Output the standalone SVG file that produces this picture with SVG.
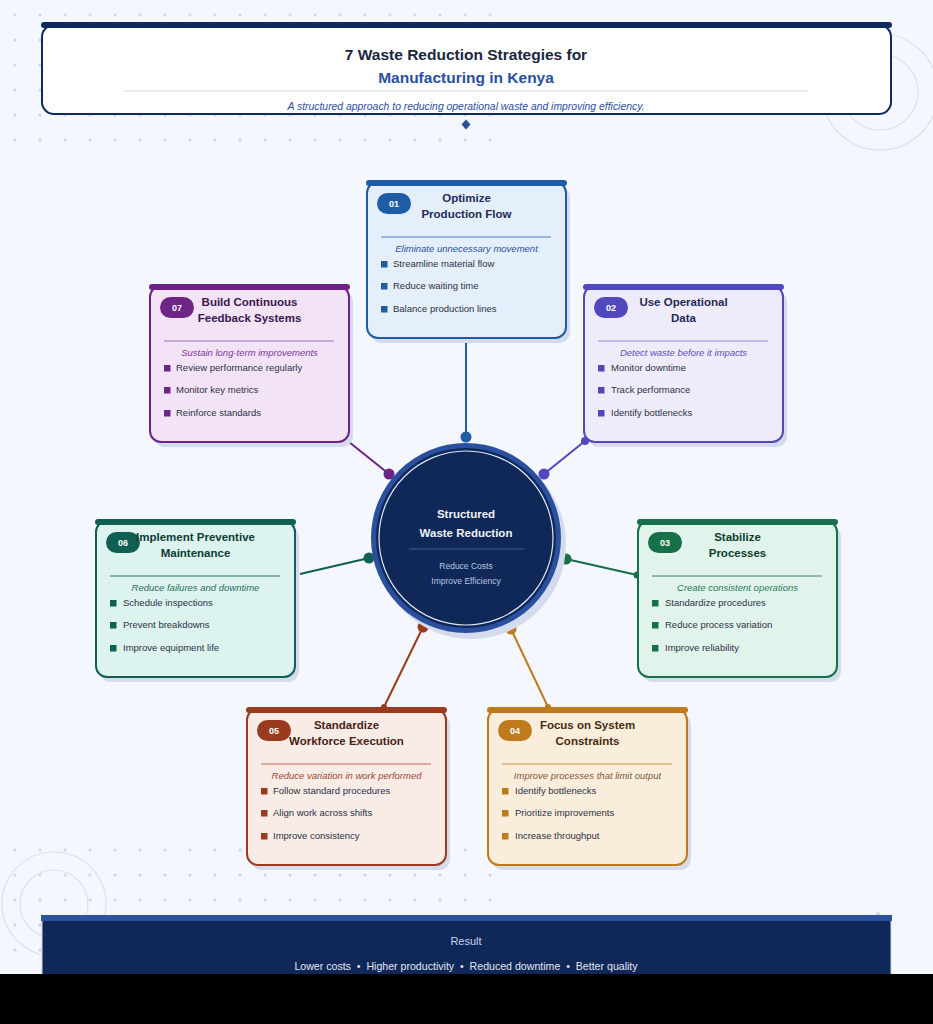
<svg xmlns="http://www.w3.org/2000/svg" width="933" height="1024" viewBox="0 0 933 1024">
<defs>
<pattern id="dotsTop" x="0" y="0" width="25" height="25" patternUnits="userSpaceOnUse"><circle cx="15" cy="15" r="1.6" fill="#cdd7ea"/></pattern>
<pattern id="dotsBot" x="0" y="835" width="25" height="25" patternUnits="userSpaceOnUse"><circle cx="15" cy="15" r="1.6" fill="#cdd7ea"/></pattern>
<style>
text{font-family:"Liberation Sans",Arial,sans-serif}
.shadow{fill:#d3dbec}
.ttl{font-size:11.5px;font-weight:bold;text-anchor:middle}
.sub{font-size:9.5px;font-style:italic;text-anchor:middle}
.bl{font-size:9.5px;fill:#2b3245}
.badge{font-size:9px;font-weight:bold;fill:#ffffff;text-anchor:middle}
.conn{fill:none;stroke-width:2}
</style>
</defs>
<rect x="0" y="0" width="933" height="1024" fill="#f4f7fe"/>
<rect x="0" y="0" width="500" height="150" fill="url(#dotsTop)"/>
<rect x="0" y="840" width="500" height="120" fill="url(#dotsBot)"/>
<g fill="none" stroke="#d9e2f3" stroke-width="1.2">
<circle cx="880" cy="92" r="58"/><circle cx="880" cy="92" r="38"/>
<circle cx="54" cy="904" r="52"/><circle cx="54" cy="904" r="34"/>
</g>

<g id="header">
<rect x="42" y="25" width="849" height="89" rx="12" fill="#ffffff" stroke="#0f2a5c" stroke-width="2"/>
<rect x="41" y="22" width="851" height="6" rx="3" fill="#0f2a5c"/>
<text x="466" y="60" font-size="15.5" font-weight="bold" fill="#1a2540" text-anchor="middle">7 Waste Reduction Strategies for</text>
<text x="466" y="82.5" font-size="15.5" font-weight="bold" fill="#2a4f9f" text-anchor="middle">Manufacturing in Kenya</text>
<line x1="124" y1="91" x2="808" y2="91" stroke="#cdd6e8" stroke-width="1"/>
<text x="466" y="109.5" font-size="10.4" font-style="italic" fill="#2a4f9f" text-anchor="middle">A structured approach to reducing operational waste and improving efficiency.</text>
<polygon points="466,119.5 470.5,124.5 466,129.5 461.5,124.5" fill="#2a4f9f"/>
</g>

<g id="connectors">
<line class="conn" x1="466" y1="338" x2="466" y2="437" stroke="#1f5ca6"/>
<circle cx="466" cy="437" r="5.5" fill="#1f5ca6"/>
<line class="conn" x1="585" y1="441" x2="544" y2="474" stroke="#5248bd"/>
<circle cx="585" cy="441" r="4" fill="#5248bd"/><circle cx="544" cy="474" r="5.5" fill="#5248bd"/>
<line class="conn" x1="349" y1="442" x2="389" y2="474" stroke="#6c2585"/>
<circle cx="389" cy="474" r="5.5" fill="#6c2585"/>
<line class="conn" x1="300" y1="574" x2="369" y2="558" stroke="#0f5f52"/>
<circle cx="369" cy="558" r="5.5" fill="#0f5f52"/>
<line class="conn" x1="566" y1="559" x2="637" y2="575" stroke="#17704a"/>
<circle cx="566" cy="559" r="5.5" fill="#17704a"/><circle cx="637" cy="575" r="3.5" fill="#17704a"/>
<line class="conn" x1="423" y1="627" x2="384" y2="707" stroke="#9a3a1f"/>
<circle cx="423" cy="627" r="5.5" fill="#9a3a1f"/><circle cx="384" cy="707" r="3" fill="#9a3a1f"/>
<line class="conn" x1="511" y1="629" x2="548" y2="707" stroke="#c07a1e"/>
<circle cx="511" cy="629" r="5.5" fill="#c07a1e"/><circle cx="548" cy="707" r="3" fill="#c07a1e"/>
</g>

<g id="center">
<circle cx="471" cy="544" r="95" fill="#d3dbec"/>
<circle cx="466" cy="538" r="95" fill="#2a4f9f"/>
<circle cx="466" cy="538" r="90" fill="#0f2858"/>
<circle cx="466" cy="538" r="87" fill="none" stroke="#dfe6f5" stroke-width="1.2"/>
<text x="466" y="518" font-size="11.5" font-weight="bold" fill="#eef2fa" text-anchor="middle">Structured</text>
<text x="466" y="537" font-size="11.5" font-weight="bold" fill="#eef2fa" text-anchor="middle">Waste Reduction</text>
<line x1="409" y1="549" x2="524" y2="549" stroke="#3d5c9f" stroke-width="1"/>
<text x="466" y="569" font-size="8.5" fill="#b9c5e2" text-anchor="middle">Reduce Costs</text>
<text x="466" y="584" font-size="8.5" fill="#b9c5e2" text-anchor="middle">Improve Efficiency</text>
</g>

<g id="card-01">
<rect class="shadow" x="371" y="187" width="199" height="156" rx="11"/>
<rect x="367" y="182" width="199" height="156" rx="11" fill="#e4effb" stroke="#1f5ca6" stroke-width="2"/>
<rect x="366" y="180" width="201" height="6" rx="3" fill="#1f5ca6"/>
<rect x="377" y="193" width="34" height="21" rx="10.5" fill="#1f5ca6"/>
<text class="badge" x="394" y="206.5">01</text>
<text class="ttl" x="466.5" y="202" fill="#1c2b5a">Optimize</text>
<text class="ttl" x="466.5" y="218" fill="#1c2b5a">Production Flow</text>
<line x1="381" y1="237" x2="551" y2="237" stroke="#1f5ca6" stroke-opacity="0.75"/>
<text class="sub" x="466.5" y="252" fill="#2a4f9f">Eliminate unnecessary movement</text>
<rect x="381" y="261" width="6.5" height="6.5" fill="#1f5ca6"/><text class="bl" x="393" y="267.4">Streamline material flow</text>
<rect x="381" y="283" width="6.5" height="6.5" fill="#1f5ca6"/><text class="bl" x="393" y="289.4">Reduce waiting time</text>
<rect x="381" y="306" width="6.5" height="6.5" fill="#1f5ca6"/><text class="bl" x="393" y="312.4">Balance production lines</text>
</g>

<g id="card-02">
<rect class="shadow" x="588" y="291" width="199" height="156" rx="11"/>
<rect x="584" y="286" width="199" height="156" rx="11" fill="#eeecfb" stroke="#5248bd" stroke-width="2"/>
<rect x="583" y="284" width="201" height="6" rx="3" fill="#5248bd"/>
<rect x="594" y="297" width="34" height="21" rx="10.5" fill="#5248bd"/>
<text class="badge" x="611" y="310.5">02</text>
<text class="ttl" x="683.5" y="306" fill="#1e2a5a">Use Operational</text>
<text class="ttl" x="683.5" y="322" fill="#1e2a5a">Data</text>
<line x1="598" y1="341" x2="768" y2="341" stroke="#5248bd" stroke-opacity="0.6"/>
<text class="sub" x="683.5" y="356" fill="#5b50c0">Detect waste before it impacts</text>
<rect x="598" y="365" width="6.5" height="6.5" fill="#5248bd"/><text class="bl" x="611" y="371.4">Monitor downtime</text>
<rect x="598" y="387" width="6.5" height="6.5" fill="#5248bd"/><text class="bl" x="611" y="393.4">Track performance</text>
<rect x="598" y="410" width="6.5" height="6.5" fill="#5248bd"/><text class="bl" x="611" y="416.4">Identify bottlenecks</text>
</g>

<g id="card-03">
<rect class="shadow" x="642" y="526" width="199" height="156" rx="11"/>
<rect x="638" y="521" width="199" height="156" rx="11" fill="#e1f4ec" stroke="#17704a" stroke-width="2"/>
<rect x="637" y="519" width="201" height="6" rx="3" fill="#17704a"/>
<rect x="648" y="532" width="34" height="21" rx="10.5" fill="#17704a"/>
<text class="badge" x="665" y="545.5">03</text>
<text class="ttl" x="737.5" y="541" fill="#0d3d2a">Stabilize</text>
<text class="ttl" x="737.5" y="557" fill="#0d3d2a">Processes</text>
<line x1="652" y1="576" x2="822" y2="576" stroke="#17704a" stroke-opacity="0.85"/>
<text class="sub" x="737.5" y="591" fill="#2a7a5a">Create consistent operations</text>
<rect x="652" y="600" width="6.5" height="6.5" fill="#17704a"/><text class="bl" x="665" y="606.4">Standardize procedures</text>
<rect x="652" y="622" width="6.5" height="6.5" fill="#17704a"/><text class="bl" x="665" y="628.4">Reduce process variation</text>
<rect x="652" y="645" width="6.5" height="6.5" fill="#17704a"/><text class="bl" x="665" y="651.4">Improve reliability</text>
</g>

<g id="card-04">
<rect class="shadow" x="492" y="714" width="199" height="156" rx="11"/>
<rect x="488" y="709" width="199" height="156" rx="11" fill="#faeddb" stroke="#c07a1e" stroke-width="2"/>
<rect x="487" y="707" width="201" height="6" rx="3" fill="#c07a1e"/>
<rect x="498" y="720" width="34" height="21" rx="10.5" fill="#c07a1e"/>
<text class="badge" x="515" y="733.5">04</text>
<text class="ttl" x="587.5" y="729" fill="#4a2a10">Focus on System</text>
<text class="ttl" x="587.5" y="745" fill="#4a2a10">Constraints</text>
<line x1="502" y1="764" x2="672" y2="764" stroke="#c07a1e" stroke-opacity="0.8"/>
<text class="sub" x="587.5" y="779" fill="#7a5a40">Improve processes that limit output</text>
<rect x="502" y="788" width="6.5" height="6.5" fill="#c07a1e"/><text class="bl" x="515" y="794.4">Identify bottlenecks</text>
<rect x="502" y="810" width="6.5" height="6.5" fill="#c07a1e"/><text class="bl" x="515" y="816.4">Prioritize improvements</text>
<rect x="502" y="833" width="6.5" height="6.5" fill="#c07a1e"/><text class="bl" x="515" y="839.4">Increase throughput</text>
</g>

<g id="card-05">
<rect class="shadow" x="251" y="714" width="199" height="156" rx="11"/>
<rect x="247" y="709" width="199" height="156" rx="11" fill="#f9ebe6" stroke="#9a3a1f" stroke-width="2"/>
<rect x="246" y="707" width="201" height="6" rx="3" fill="#9a3a1f"/>
<rect x="257" y="720" width="34" height="21" rx="10.5" fill="#9a3a1f"/>
<text class="badge" x="274" y="733.5">05</text>
<text class="ttl" x="346.5" y="729" fill="#4a2212">Standardize</text>
<text class="ttl" x="346.5" y="745" fill="#4a2212">Workforce Execution</text>
<line x1="261" y1="764" x2="431" y2="764" stroke="#c0603a" stroke-opacity="0.9"/>
<text class="sub" x="346.5" y="779" fill="#9a4a30">Reduce variation in work performed</text>
<rect x="261" y="788" width="6.5" height="6.5" fill="#9a3a1f"/><text class="bl" x="273" y="794.4">Follow standard procedures</text>
<rect x="261" y="810" width="6.5" height="6.5" fill="#9a3a1f"/><text class="bl" x="273" y="816.4">Align work across shifts</text>
<rect x="261" y="833" width="6.5" height="6.5" fill="#9a3a1f"/><text class="bl" x="273" y="839.4">Improve consistency</text>
</g>

<g id="card-06">
<rect class="shadow" x="100" y="526" width="199" height="156" rx="11"/>
<rect x="96" y="521" width="199" height="156" rx="11" fill="#dcf3ef" stroke="#0f5f52" stroke-width="2"/>
<rect x="95" y="519" width="201" height="6" rx="3" fill="#0f5f52"/>
<rect x="106" y="532" width="34" height="21" rx="10.5" fill="#0f5f52"/>
<text class="badge" x="123" y="545.5">06</text>
<text class="ttl" x="195.5" y="541" fill="#0d3b33">Implement Preventive</text>
<text class="ttl" x="195.5" y="557" fill="#0d3b33">Maintenance</text>
<line x1="110" y1="576" x2="280" y2="576" stroke="#0f5f52" stroke-opacity="0.85"/>
<text class="sub" x="195.5" y="591" fill="#2a6e60">Reduce failures and downtime</text>
<rect x="110" y="600" width="6.5" height="6.5" fill="#0f5f52"/><text class="bl" x="123" y="606.4">Schedule inspections</text>
<rect x="110" y="622" width="6.5" height="6.5" fill="#0f5f52"/><text class="bl" x="123" y="628.4">Prevent breakdowns</text>
<rect x="110" y="645" width="6.5" height="6.5" fill="#0f5f52"/><text class="bl" x="123" y="651.4">Improve equipment life</text>
</g>

<g id="card-07">
<rect class="shadow" x="154" y="291" width="199" height="156" rx="11"/>
<rect x="150" y="286" width="199" height="156" rx="11" fill="#f2e3f7" stroke="#6c2585" stroke-width="2"/>
<rect x="149" y="284" width="201" height="6" rx="3" fill="#6c2585"/>
<rect x="160" y="297" width="34" height="21" rx="10.5" fill="#6c2585"/>
<text class="badge" x="177" y="310.5">07</text>
<text class="ttl" x="249.5" y="306" fill="#3a1650">Build Continuous</text>
<text class="ttl" x="249.5" y="322" fill="#3a1650">Feedback Systems</text>
<line x1="164" y1="341" x2="334" y2="341" stroke="#9a62b4" stroke-opacity="0.9"/>
<text class="sub" x="249.5" y="356" fill="#7a3a9a">Sustain long-term improvements</text>
<rect x="164" y="365" width="6.5" height="6.5" fill="#6c2585"/><text class="bl" x="176" y="371.4">Review performance regularly</text>
<rect x="164" y="387" width="6.5" height="6.5" fill="#6c2585"/><text class="bl" x="176" y="393.4">Monitor key metrics</text>
<rect x="164" y="410" width="6.5" height="6.5" fill="#6c2585"/><text class="bl" x="176" y="416.4">Reinforce standards</text>
</g>

<g id="footer">
<polygon points="878,911 882,916 874,916" fill="#ccd7ec"/>
<rect x="42" y="918" width="849" height="110" fill="#0f2858" stroke="#c9d4ea" stroke-width="1"/>
<rect x="41" y="915" width="851" height="6" fill="#2a52a0"/>
<text x="466" y="944.5" font-size="11" fill="#c8d3ee" text-anchor="middle">Result</text>
<text x="466" y="969.5" font-size="10.6" fill="#e0e6f5" text-anchor="middle">Lower costs&#160;&#160;•&#160;&#160;Higher productivity&#160;&#160;•&#160;&#160;Reduced downtime&#160;&#160;•&#160;&#160;Better quality</text>
</g>
<rect x="0" y="974" width="933" height="50" fill="#000000"/>
</svg>
